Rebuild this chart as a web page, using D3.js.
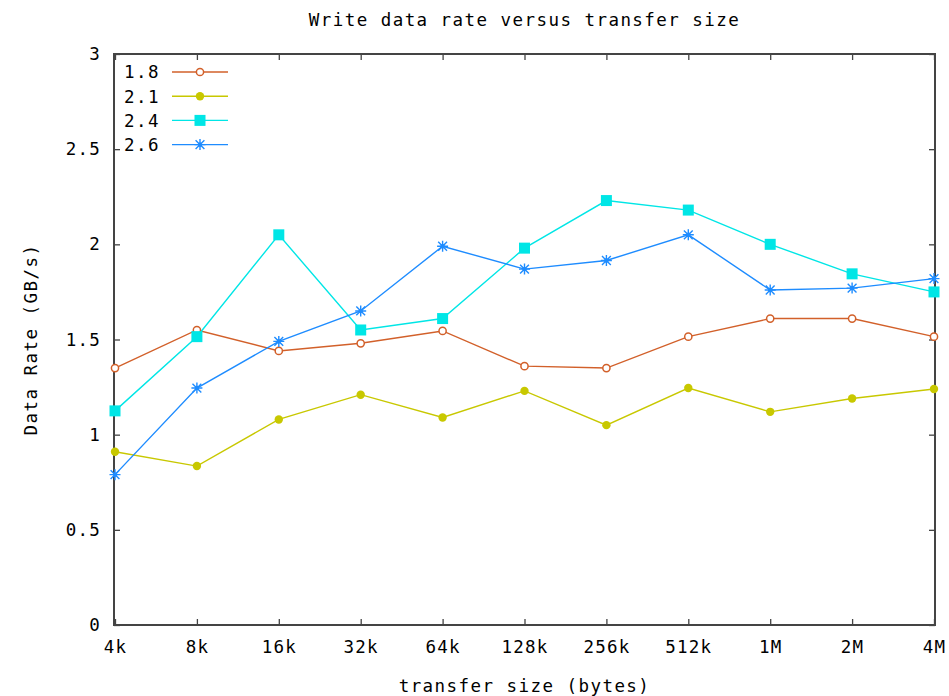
<!DOCTYPE html>
<html>
<head>
<meta charset="utf-8">
<script src="https://cdn.jsdelivr.net/npm/d3@7"></script>
<style>
  html, body { margin: 0; padding: 0; background: #fff; }
  svg text { font-family: "DejaVu Sans Mono", "Liberation Mono", monospace; fill: #000; }
</style>
</head>
<body>
<svg id="chart" width="949" height="696"></svg>
<script>
// Transfer sizes on the x axis
const sizes = ["4k", "8k", "16k", "32k", "64k", "128k", "256k", "512k", "1M", "2M", "4M"];

// Write data rate (GB/s) per version
const rate18 = [1.35, 1.55, 1.44, 1.48, 1.545, 1.36, 1.35, 1.515, 1.61, 1.61, 1.515];
const rate21 = [0.91, 0.835, 1.08, 1.21, 1.09, 1.23, 1.05, 1.245, 1.12, 1.19, 1.24];
const rate24 = [1.125, 1.515, 2.05, 1.55, 1.61, 1.98, 2.23, 2.18, 2.0, 1.845, 1.75];
const rate26 = [0.79, 1.245, 1.49, 1.65, 1.99, 1.87, 1.915, 2.05, 1.76, 1.77, 1.82];

const seriesNames = ["1.8", "2.1", "2.4", "2.6"];
const yTicks = [0, 0.5, 1, 1.5, 2, 2.5, 3];

const series = [
  { name: seriesNames[0], values: rate18, color: "#d2602a", marker: "openCircle" },
  { name: seriesNames[1], values: rate21, color: "#c8c800", marker: "dot" },
  { name: seriesNames[2], values: rate24, color: "#00e6e6", marker: "square" },
  { name: seriesNames[3], values: rate26, color: "#1e8cff", marker: "star" }
];

const svg = d3.select("#chart");
const plotL = 114, plotR = 935, plotT = 54, plotB = 625;
const fontSize = "17.5px", spacing = "1.2px";

const x = d3.scalePoint().domain(sizes).range([plotL + 1, plotR - 1]);
const y = d3.scaleLinear().domain([0, 3]).range([plotB, plotT]);

const axisColor = "#444";

function styleAxis(g) {
  g.select(".domain").remove();
  g.selectAll(".tick line").attr("stroke", axisColor).attr("stroke-width", 1.3);
  g.selectAll(".tick text").style("font-size", fontSize).style("letter-spacing", spacing).attr("fill", "#000");
}

// Bottom axis with labels
svg.append("g")
  .attr("transform", `translate(0,${plotB})`)
  .call(d3.axisBottom(x).tickSize(-6).tickPadding(16))
  .call(styleAxis);

// Top mirror ticks
svg.append("g")
  .attr("transform", `translate(0,${plotT})`)
  .call(d3.axisTop(x).tickSize(-6).tickFormat(""))
  .call(styleAxis);

// Left axis with labels
svg.append("g")
  .attr("transform", `translate(${plotL},0)`)
  .call(d3.axisLeft(y).tickValues(yTicks).tickSize(-6).tickPadding(13).tickFormat(d3.format("~g")))
  .call(styleAxis);

// Right mirror ticks
svg.append("g")
  .attr("transform", `translate(${plotR},0)`)
  .call(d3.axisRight(y).tickValues(yTicks).tickSize(-6).tickFormat(""))
  .call(styleAxis);

// Plot border
svg.append("rect")
  .attr("x", plotL).attr("y", plotT)
  .attr("width", plotR - plotL).attr("height", plotB - plotT)
  .attr("fill", "none").attr("stroke", axisColor).attr("stroke-width", 2);

// Titles
svg.append("text")
  .attr("x", (plotL + plotR) / 2).attr("y", 26)
  .attr("text-anchor", "middle")
  .style("font-size", fontSize).style("letter-spacing", "1.45px")
  .text("Write data rate versus transfer size");

svg.append("text")
  .attr("x", (plotL + plotR) / 2).attr("y", 692)
  .attr("text-anchor", "middle")
  .style("font-size", fontSize).style("letter-spacing", "1.45px")
  .text("transfer size (bytes)");

svg.append("text")
  .attr("transform", `translate(37,${(plotT + plotB) / 2}) rotate(-90)`)
  .attr("text-anchor", "middle")
  .style("font-size", fontSize).style("letter-spacing", "1.45px")
  .text("Data Rate (GB/s)");

// Marker drawing
function drawMarker(g, type, color, cx, cy) {
  if (type === "openCircle") {
    g.append("circle").attr("cx", cx).attr("cy", cy).attr("r", 3.6)
      .attr("fill", "#fff").attr("stroke", color).attr("stroke-width", 1.5);
  } else if (type === "dot") {
    g.append("circle").attr("cx", cx).attr("cy", cy).attr("r", 4.2).attr("fill", color);
  } else if (type === "square") {
    g.append("rect").attr("x", cx - 5.5).attr("y", cy - 5.5).attr("width", 11).attr("height", 11).attr("fill", color);
  } else if (type === "star") {
    const s = 5.5;
    const p = d3.path();
    p.moveTo(cx - s, cy); p.lineTo(cx + s, cy);
    p.moveTo(cx, cy - s); p.lineTo(cx, cy + s);
    p.moveTo(cx - s * 0.8, cy - s * 0.8); p.lineTo(cx + s * 0.8, cy + s * 0.8);
    p.moveTo(cx - s * 0.8, cy + s * 0.8); p.lineTo(cx + s * 0.8, cy - s * 0.8);
    g.append("path").attr("d", p.toString()).attr("stroke", color).attr("stroke-width", 1.4).attr("fill", "none");
    g.append("circle").attr("cx", cx).attr("cy", cy).attr("r", 2.2).attr("fill", color);
  }
}

const line = d3.line().x((d, i) => x(sizes[i])).y(d => y(d));

const plot = svg.append("g");
series.forEach(s => {
  plot.append("path")
    .datum(s.values)
    .attr("d", line)
    .attr("fill", "none")
    .attr("stroke", s.color)
    .attr("stroke-width", 1.4);
});
series.forEach(s => {
  const g = plot.append("g");
  s.values.forEach((v, i) => drawMarker(g, s.marker, s.color, x(sizes[i]), y(v)));
});

// Legend
const legend = svg.append("g");
series.forEach((s, i) => {
  const ly = 72 + i * 24.2;
  legend.append("text")
    .attr("x", 160).attr("y", ly)
    .attr("dy", "0.36em")
    .attr("text-anchor", "end")
    .style("font-size", fontSize).style("letter-spacing", "1.45px")
    .text(s.name);
  legend.append("line")
    .attr("x1", 172).attr("x2", 228).attr("y1", ly).attr("y2", ly)
    .attr("stroke", s.color).attr("stroke-width", 1.4);
  drawMarker(legend.append("g"), s.marker, s.color, 200, ly);
});
</script>
</body>
</html>
